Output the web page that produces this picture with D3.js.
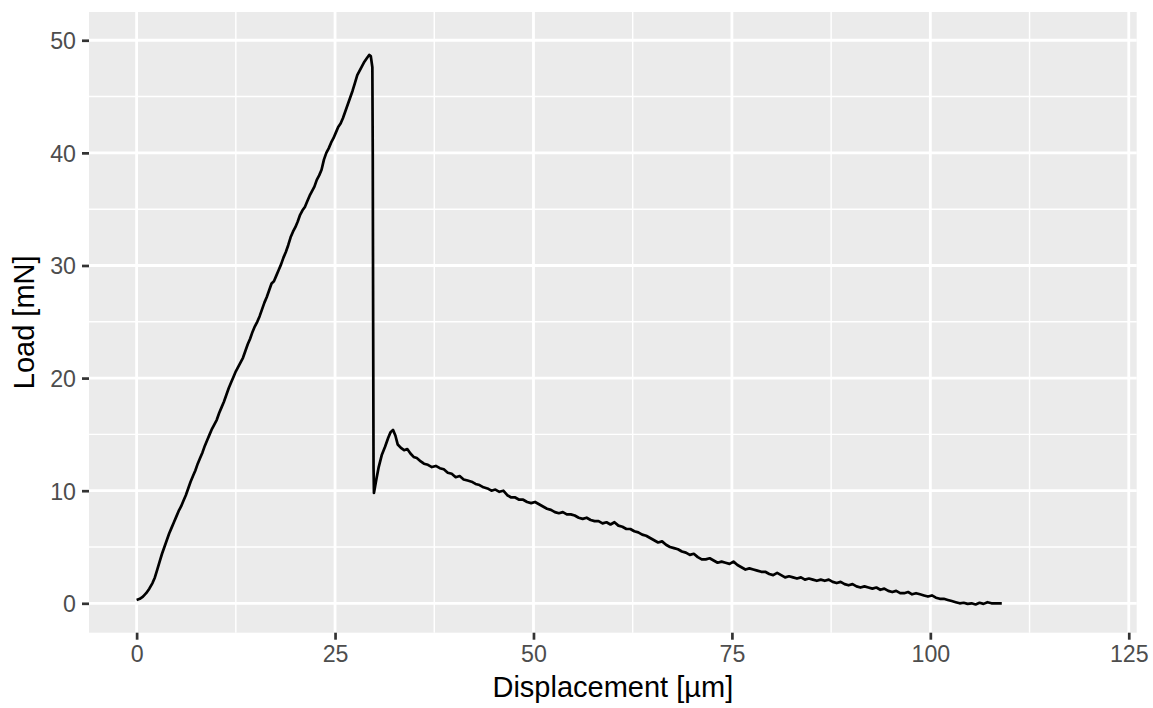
<!DOCTYPE html>
<html>
<head>
<meta charset="utf-8">
<script src="https://cdn.jsdelivr.net/npm/d3@7"></script>
<style>
  html, body { margin: 0; padding: 0; background: #ffffff; }
  svg { display: block; }
  text { font-family: "Liberation Sans", Arial, Helvetica, sans-serif; }
</style>
</head>
<body>
<svg id="chart" width="1153" height="708"></svg>
<script>
// Data (Displacement in µm, Load in mN)
const displacement = [
  0.0,0.4,0.8,1.2,1.6,2.0,2.3,2.6,2.9,3.2,3.5,3.8,4.1,4.4,4.7,5.0,5.3,5.6,5.9,6.2,6.5,6.8,7.1,7.4,7.7,8.0,8.3,8.6,8.9,9.2,9.5,9.8,
  10.1,10.4,10.7,11.0,11.3,11.6,11.9,12.2,12.5,12.8,13.1,13.4,13.7,14.0,14.3,14.6,14.9,15.2,15.5,15.8,16.1,16.4,16.7,17.0,17.3,17.6,17.9,
  18.2,18.5,18.8,19.1,19.4,19.7,20.0,20.3,20.6,20.9,21.2,21.5,21.8,22.1,22.4,22.7,23.0,23.3,23.6,23.9,24.2,24.5,24.8,25.1,25.4,25.7,
  26.0,26.3,26.6,26.9,27.2,27.5,27.8,28.1,28.4,28.7,29.0,29.3,29.5,29.7,29.75,29.8,29.85,29.9,
  30.2,30.5,30.9,31.3,31.7,32.0,32.3,32.6,32.9,33.3,33.7,34.1,34.5,34.9,35.3,35.8,36.2,36.7,37.2,37.7,38.2,38.7,39.2,39.7,
  40.2,40.7,41.2,41.7,42.2,42.7,43.2,43.7,44.2,44.7,45.2,45.7,46.2,46.7,47.2,47.7,48.2,48.7,49.2,49.7,
  50.2,50.7,51.2,51.7,52.2,52.7,53.2,53.7,54.2,54.7,55.2,55.7,56.2,56.7,57.2,57.7,58.2,58.7,59.2,59.7,
  60.2,60.7,61.2,61.7,62.2,62.7,63.2,63.7,64.2,64.7,65.2,65.7,66.2,66.7,67.2,67.7,68.2,68.7,69.2,69.7,
  70.2,70.7,71.2,71.7,72.2,72.7,73.2,73.7,74.2,74.7,75.2,75.7,76.2,76.7,77.2,77.7,78.2,78.7,79.2,79.7,
  80.2,80.7,81.2,81.7,82.2,82.7,83.2,83.7,84.2,84.7,85.2,85.7,86.2,86.7,87.2,87.7,88.2,88.7,89.2,89.7,
  90.2,90.7,91.2,91.7,92.2,92.7,93.2,93.7,94.2,94.7,95.2,95.7,96.2,96.7,97.2,97.7,98.2,98.7,99.2,99.7,
  100.2,100.7,101.2,101.7,102.2,102.7,103.2,103.7,104.2,104.7,105.2,105.7,106.2,106.7,107.2,107.7,108.2,109.0
];
const load = [
  0.3,0.4,0.6,0.9,1.3,1.8,2.3,3.0,3.7,4.4,5.0,5.6,6.2,6.7,7.2,7.7,8.2,8.6,9.1,9.6,10.2,10.8,11.3,11.8,12.4,12.9,13.4,14.0,14.5,15.0,15.5,15.9,
  16.3,16.9,17.4,17.9,18.5,19.1,19.6,20.1,20.6,21.0,21.4,21.8,22.4,23.0,23.5,24.1,24.6,25.0,25.5,26.1,26.7,27.2,27.8,28.4,28.6,29.1,29.6,
  30.1,30.7,31.2,31.8,32.5,33.0,33.4,33.9,34.5,34.9,35.2,35.7,36.2,36.6,37.0,37.6,38.0,38.5,39.4,40.0,40.4,40.9,41.3,41.8,42.3,42.6,
  43.1,43.7,44.3,44.9,45.5,46.2,46.9,47.3,47.7,48.1,48.4,48.7,48.6,47.6,40.0,25.0,12.0,9.8,
  11.0,12.1,13.2,13.9,14.7,15.2,15.4,14.9,14.1,13.8,13.6,13.7,13.3,13.0,12.9,12.6,12.4,12.3,12.1,12.2,12.0,11.9,11.6,11.5,
  11.2,11.3,11.0,10.9,10.8,10.6,10.5,10.3,10.2,10.0,10.1,9.9,10.0,9.6,9.4,9.4,9.2,9.2,9.0,8.9,
  9.0,8.8,8.6,8.4,8.3,8.1,8.0,8.1,7.9,7.9,7.8,7.6,7.5,7.6,7.4,7.3,7.3,7.1,7.2,7.0,
  7.2,6.9,6.8,6.6,6.6,6.4,6.3,6.1,6.0,5.8,5.6,5.4,5.5,5.2,5.0,4.9,4.8,4.6,4.5,4.3,
  4.4,4.1,3.9,3.9,4.0,3.8,3.6,3.7,3.6,3.5,3.7,3.4,3.2,3.0,3.1,3.0,2.9,2.8,2.8,2.6,
  2.5,2.7,2.5,2.3,2.4,2.3,2.2,2.3,2.1,2.2,2.1,2.0,2.1,2.0,2.1,1.9,1.8,1.9,1.7,1.6,
  1.7,1.5,1.4,1.5,1.4,1.3,1.4,1.2,1.3,1.1,1.0,1.1,0.9,0.9,1.0,0.8,0.9,0.8,0.7,0.6,
  0.7,0.5,0.4,0.4,0.3,0.2,0.1,0.0,0.05,-0.05,0.0,-0.1,0.05,-0.05,0.1,0.0,0.0,0.0
];
const xTicks = [0, 25, 50, 75, 100, 125];
const yTicks = [0, 10, 20, 30, 40, 50];
const xMinor = [12.5, 37.5, 62.5, 87.5, 112.5];
const yMinor = [5, 15, 25, 35, 45];
const xTitle = "Displacement [µm]";
const yTitle = "Load [mN]";

const W = 1153, H = 708;
const panel = { left: 89, top: 12, right: 1136.7, bottom: 632.7 };

const svg = d3.select("#chart");
const x = d3.scaleLinear().domain([-6, 126]).range([panel.left, panel.right]);
const y = d3.scaleLinear().domain([-2.61, 52.51]).range([panel.bottom, panel.top]);

// panel background
svg.append("rect")
  .attr("x", panel.left).attr("y", panel.top)
  .attr("width", panel.right - panel.left).attr("height", panel.bottom - panel.top)
  .attr("fill", "#EBEBEB");

const grid = svg.append("g");
// minor grid
grid.selectAll(".xminor").data(xMinor).enter().append("line")
  .attr("x1", d => x(d)).attr("x2", d => x(d))
  .attr("y1", panel.top).attr("y2", panel.bottom)
  .attr("stroke", "#ffffff").attr("stroke-width", 1.4);
grid.selectAll(".yminor").data(yMinor).enter().append("line")
  .attr("x1", panel.left).attr("x2", panel.right)
  .attr("y1", d => y(d)).attr("y2", d => y(d))
  .attr("stroke", "#ffffff").attr("stroke-width", 1.4);
// major grid
grid.selectAll(".xmajor").data(xTicks).enter().append("line")
  .attr("x1", d => x(d)).attr("x2", d => x(d))
  .attr("y1", panel.top).attr("y2", panel.bottom)
  .attr("stroke", "#ffffff").attr("stroke-width", 2.8);
grid.selectAll(".ymajor").data(yTicks).enter().append("line")
  .attr("x1", panel.left).attr("x2", panel.right)
  .attr("y1", d => y(d)).attr("y2", d => y(d))
  .attr("stroke", "#ffffff").attr("stroke-width", 2.8);

// line
const pts = displacement.map((d, i) => [d, load[i]]);
svg.append("path")
  .datum(pts)
  .attr("fill", "none")
  .attr("stroke", "#000000")
  .attr("stroke-width", 2.7)
  .attr("stroke-linejoin", "round")
  .attr("stroke-linecap", "butt")
  .attr("d", d3.line().x(d => x(d[0])).y(d => y(d[1])));

// axes
const xAxis = d3.axisBottom(x).tickValues(xTicks).tickSize(7).tickPadding(5).tickFormat(d3.format("d"));
const yAxis = d3.axisLeft(y).tickValues(yTicks).tickSize(7).tickPadding(5).tickFormat(d3.format("d"));

const gx = svg.append("g").attr("transform", `translate(0,${panel.bottom})`).call(xAxis);
const gy = svg.append("g").attr("transform", `translate(${panel.left},0)`).call(yAxis);
[gx, gy].forEach(g => {
  g.select(".domain").remove();
  g.selectAll(".tick line").attr("stroke", "#333333").attr("stroke-width", 2.7);
  g.selectAll(".tick text").attr("fill", "#4D4D4D").style("font-size", "23.2px");
});
gx.selectAll(".tick text").attr("dy", "0.75em").attr("y", 12);
gy.selectAll(".tick text").attr("dy", "0.36em").attr("x", -13);

// titles
svg.append("text")
  .attr("x", (panel.left + panel.right) / 2).attr("y", 697)
  .attr("text-anchor", "middle")
  .attr("fill", "#000000")
  .style("font-size", "29px")
  .text(xTitle);
svg.append("text")
  .attr("transform", `translate(34,${(panel.top + panel.bottom) / 2}) rotate(-90)`)
  .attr("text-anchor", "middle")
  .attr("fill", "#000000")
  .style("font-size", "29px")
  .text(yTitle);
</script>
</body>
</html>
